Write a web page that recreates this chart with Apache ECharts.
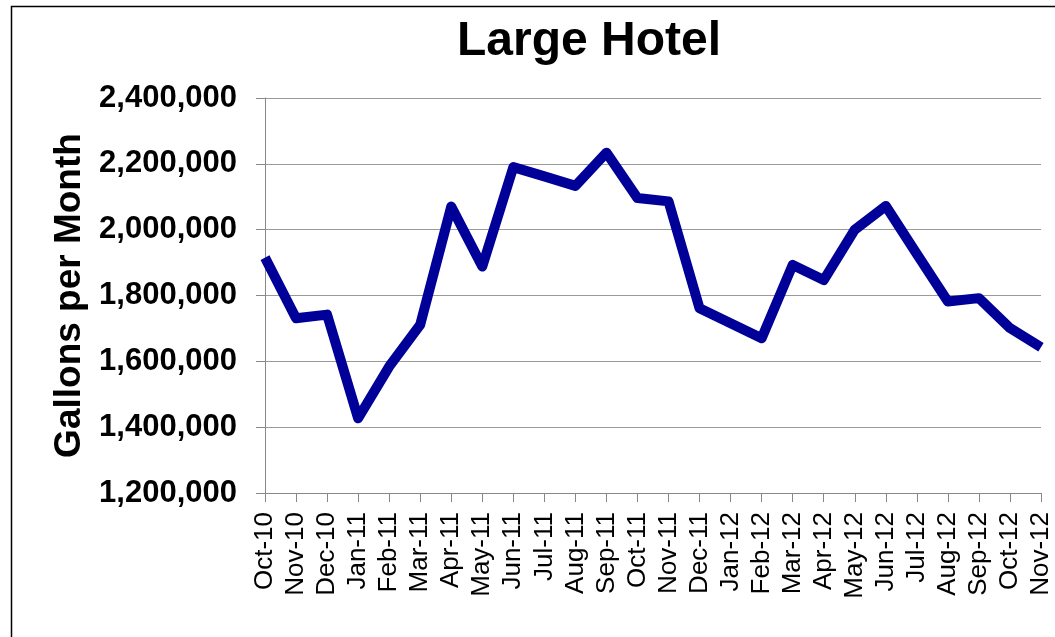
<!DOCTYPE html>
<html>
<head>
<meta charset="utf-8">
<title>Large Hotel</title>
<script src="https://cdn.jsdelivr.net/npm/echarts@6/dist/echarts.min.js"></script>
<style>
  html, body { margin: 0; padding: 0; background: #fff; }
  #chart { width: 1055px; height: 637px; }
</style>
</head>
<body>
<div id="chart"></div>
<script>
// months on the x axis
var months = ['Oct-10', 'Nov-10', 'Dec-10', 'Jan-11', 'Feb-11', 'Mar-11', 'Apr-11', 'May-11',
  'Jun-11', 'Jul-11', 'Aug-11', 'Sep-11', 'Oct-11', 'Nov-11', 'Dec-11', 'Jan-12', 'Feb-12',
  'Mar-12', 'Apr-12', 'May-12', 'Jun-12', 'Jul-12', 'Aug-12', 'Sep-12', 'Oct-12', 'Nov-12']
// gallons per month
var gallons = [1915000, 1731000, 1742000, 1427000, 1584000, 1711000, 2070000, 1888000,
  2190000, 2162000, 2133000, 2234000, 2096000, 2086000, 1761000, 1716000, 1670000,
  1893000, 1847000, 2000000, 2072000, 1926000, 1782000, 1792000, 1701000, 1643000]
// y axis range
var yMin = 1200000
var yMax = 2400000
var yStep = 200000

var font = '"Liberation Sans", Arial, sans-serif'
var axisGray = '#888888'
var gridGray = '#9a9a9a'

var chart = echarts.init(document.getElementById('chart'))
var option = {
  animation: false,
  backgroundColor: '#fff',
  title: {
    text: 'Large Hotel',
    left: 452,
    top: 13,
    textStyle: {
      fontFamily: font,
      fontSize: 48,
      fontWeight: 'bold',
      color: '#000'
    }
  },
  // outer chart border (runs off the right and bottom edges)
  graphic: [{
    type: 'rect',
    shape: { x: 11.5, y: 6.5, width: 1200, height: 800 },
    style: { fill: 'none', stroke: '#000', lineWidth: 1.5 },
    silent: true
  }],
  grid: {
    left: 265,
    right: 14,
    top: 98,
    bottom: 144
  },
  xAxis: {
    type: 'category',
    boundaryGap: false,
    data: months,
    axisLine: { lineStyle: { color: axisGray, width: 1 } },
    axisTick: { show: true, length: 9, lineStyle: { color: axisGray } },
    axisLabel: {
      interval: 0,
      rotate: 90,
      margin: 19,
      fontFamily: font,
      fontSize: 26,
      color: '#000'
    },
    splitLine: { show: false }
  },
  yAxis: {
    type: 'value',
    min: yMin,
    max: yMax,
    interval: yStep,
    name: 'Gallons per Month',
    nameLocation: 'middle',
    nameGap: 172,
    nameTextStyle: {
      fontFamily: font,
      fontSize: 37,
      fontWeight: 'bold',
      color: '#000'
    },
    axisLine: { show: true, lineStyle: { color: axisGray, width: 1 } },
    axisTick: { show: true, length: 9, lineStyle: { color: axisGray } },
    axisLabel: {
      margin: 28,
      fontFamily: font,
      fontSize: 31,
      fontWeight: 'bold',
      color: '#000',
      formatter: function (v) { return v.toLocaleString('en-US') }
    },
    splitLine: { show: true, lineStyle: { color: gridGray, width: 1 } }
  },
  series: [{
    type: 'line',
    data: gallons,
    showSymbol: false,
    symbol: 'none',
    color: '#000099',
    lineStyle: { color: '#000099', width: 10, join: 'round' }
  }]
}
chart.setOption(option)
</script>
</body>
</html>
